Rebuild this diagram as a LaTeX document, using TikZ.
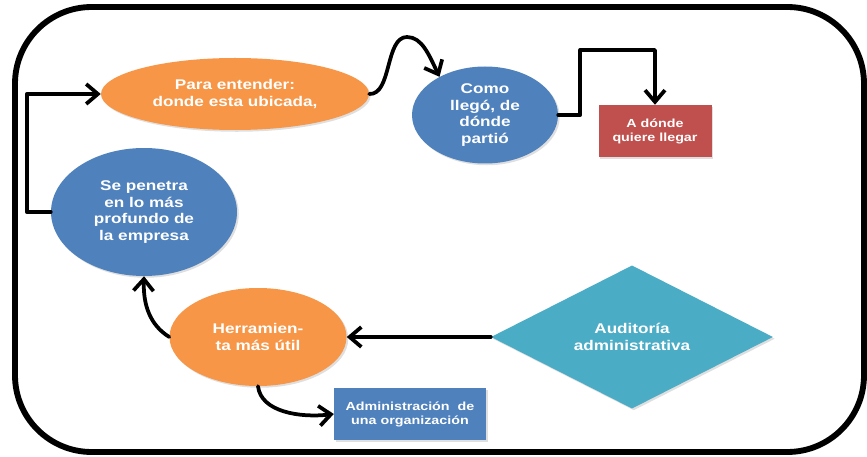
\documentclass[tikz,border=0pt]{standalone}
\usepackage{fontspec}
\setmainfont{Liberation Sans}[FakeStretch=1.22]
\usetikzlibrary{shapes.geometric,arrows.meta,shadows}

\definecolor{ofcOrange}{HTML}{F79646}
\definecolor{ofcBlue}{HTML}{4F81BD}
\definecolor{ofcRed}{HTML}{C0504D}
\definecolor{ofcTeal}{HTML}{4BACC6}

\tikzset{
  blob/.style={draw=none, inner sep=0pt, text=white, align=center,
    font=\bfseries\fontsize{12}{14}\selectfont,
    drop shadow={opacity=0.25, shadow xshift=1.5pt, shadow yshift=-1.5pt}},
  oval/.style={blob, ellipse},
  box/.style={blob, rectangle, font=\bfseries\fontsize{10}{12}\selectfont},
  conn/.style={line width=3.2pt, -{Straight Barb[length=10pt,width=17pt,line width=3.2pt]}},
  frame/.style={line width=5pt, rounded corners=2.3cm}
}

\begin{document}
\begin{tikzpicture}[line cap=round, line join=round]

% -----------------------
% Parameters
% -----------------------
\def\px{0.03cm}   % one pixel of the reference
\tikzset{x=\px, y=-\px}

\useasboundingbox (0,0) rectangle (867,457);

% -----------------------
% Outer frame
% -----------------------
\draw[frame] (15,7) rectangle (864,452);

% -----------------------
% Nodes
% -----------------------
\node[oval, fill=ofcOrange, minimum width=268*\px, minimum height=72*\px] (para) at (235,94)
  {Para entender:\\donde esta ubicada,};
\node[oval, fill=ofcBlue, minimum width=146*\px, minimum height=97*\px] (como) at (485,115)
  {Como\\lleg\'o, de\\d\'onde\\parti\'o};
\node[box, fill=ofcRed, minimum width=113*\px, minimum height=52*\px] (adonde) at (655,131)
  {A d\'onde\\quiere llegar};
\node[oval, fill=ofcBlue, minimum width=186*\px, minimum height=128*\px] (penetra) at (144,212)
  {Se penetra\\en lo m\'as\\profundo de\\la empresa};
\node[oval, fill=ofcOrange, minimum width=177*\px, minimum height=98*\px] (herr) at (258,337)
  {Herramien-\\ta m\'as \'util};
\node[box, fill=ofcBlue, minimum width=152*\px, minimum height=52*\px] (admin) at (410,414)
  {Administraci\'on\ \ de\\una organizaci\'on};
\node[blob, diamond, fill=ofcTeal, minimum width=282*\px, minimum height=135*\px] (audit) at (632,337)
  {Auditor\'ia\\administrativa};

% -----------------------
% Connectors
% -----------------------
\coordinate (wave) at (407,37);

\draw[conn] (penetra.west) -- ++(-24,0) |- (para.west);
\draw[conn] (para.east) .. controls (392,95) and (385,37) .. (wave)
  .. controls (422,37) and (429,55) .. (como.140);
\draw[conn] (como.east) -- ++(22,0) -- ++(0,-65) -| (adonde.north);
\draw[conn] (audit.west) -- (herr.east);
\draw[conn] (herr.west) .. controls (150,325) and (143,305) .. (penetra.south);
\draw[conn] (herr.south) .. controls (261,412) and (300,418) .. (admin.west);

\end{tikzpicture}
\end{document}
